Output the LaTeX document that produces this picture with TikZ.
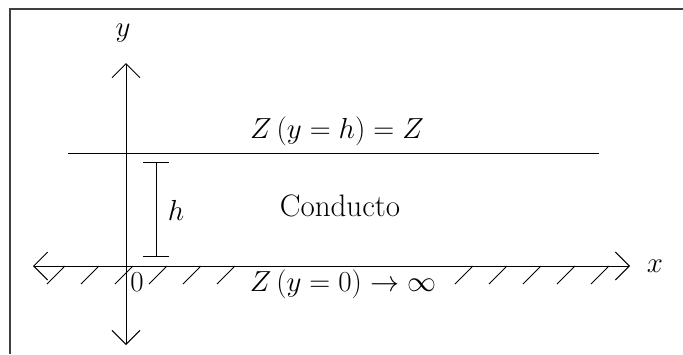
\documentclass[tikz,border=0pt]{standalone}
\usepackage{fix-cm}
\usepackage{amsmath}
\usepackage{tikz}
\usetikzlibrary{arrows.meta}
\definecolor{framegray}{RGB}{64,64,64}

\begin{document}
\begin{tikzpicture}[
  x=1pt, y=-1pt,
  line width=0.9pt,
  lbl/.style={font=\fontsize{29}{35}\selectfont, inner sep=1pt},
  axis/.style={{Straight Barb[length=14pt,width=28pt]}-{Straight Barb[length=14pt,width=28pt]}},
  hatch/.style={line width=0.8pt},
  hbar/.style={{Bar[width=26pt]}-{Bar[width=26pt]}}
]
  \useasboundingbox (0,0) rectangle (683,354);
  % frame
  \draw[framegray, line width=2pt] (683,9) -- (10,9) -- (10,354);

  \coordinate (xl) at (33,266);
  \coordinate (xr) at (630,266);
  \coordinate (yt) at (126,63);
  \coordinate (yb) at (126,345);
  \coordinate (sl) at (68,153);
  \coordinate (sr) at (599,153);
  \coordinate (ht) at (156,162);
  \coordinate (hb) at (156,257);

  % ground hatching
  \foreach \hx in {65,99,133,167,201,235,473,507,541,575,609}
    \draw[hatch] (\hx,266) -- ++(-18,18);

  \draw[axis] (xl) -- (xr);
  \draw[axis] (yt) -- (yb);
  \draw (sl) -- (sr);
  \draw[hbar] (ht) -- (hb);

  \node[lbl] (ylab) at (123,33) {$y$};
  \node[lbl] (xlab) at (655,266) {$x$};
  \node[lbl] (hlab) at (176,210) {$h$};
  \node[lbl] (zero) at (137,282) {$0$};
  \node[lbl] (top) at (337,131) {$Z\,(y = h) = Z$};
  \node[lbl, font=\fontsize{31}{37}\selectfont] (duct) at (340,206) {Conducto};
  \node[lbl] (bottom) at (343,284) {$Z\,(y = 0) \rightarrow \infty$};
\end{tikzpicture}
\end{document}
